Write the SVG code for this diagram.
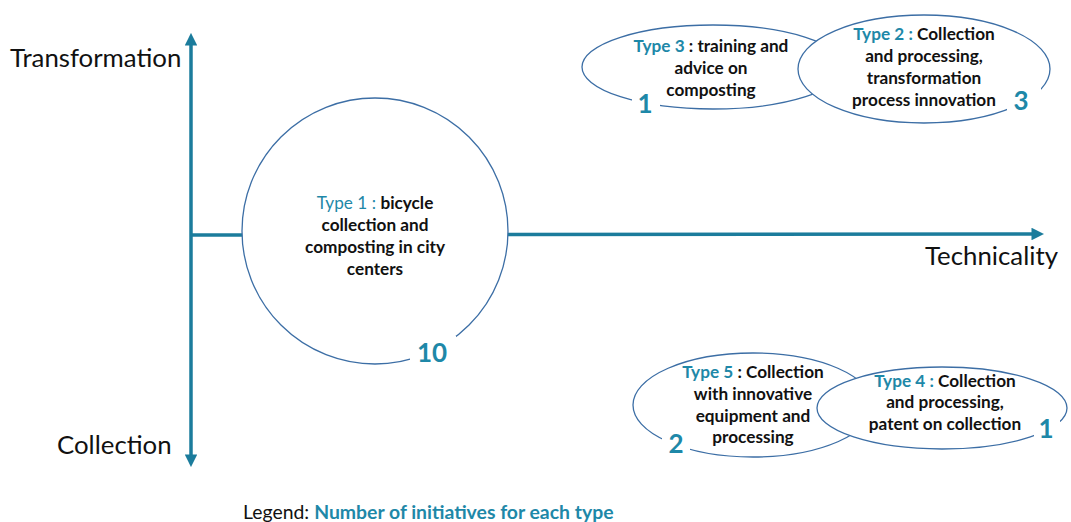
<svg xmlns="http://www.w3.org/2000/svg" width="1071" height="522" viewBox="0 0 1071 522">
<style>
.ax{stroke:#1B7C9C;stroke-width:3.5;fill:none}
.sh{fill:#fff;stroke:#3C6EA5;stroke-width:1.3}
.t{font-family:Lato,"Liberation Sans",sans-serif;font-weight:bold;font-size:17.2px;fill:#111;text-anchor:middle}
.ty{fill:#1E88A8}
.num{font-family:Lato,"Liberation Sans",sans-serif;font-weight:bold;font-size:26px;fill:#1E88A8;text-anchor:middle}
.lab{font-family:Lato,"Liberation Sans",sans-serif;font-size:25.8px;fill:#111}
.gap{fill:#fff}
</style>
<defs>
<marker id="ah" viewBox="0 0 10 10" refX="2" refY="5" markerWidth="3.6" markerHeight="3.6" orient="auto-start-reverse" markerUnits="strokeWidth">
<path d="M0,0 L10,5 L0,10 z" fill="#1B7C9C"/>
</marker>
</defs>
<g id="connectors">
<line class="ax" x1="191" y1="43" x2="191" y2="457" marker-start="url(#ah)" marker-end="url(#ah)"/>
<line class="ax" x1="191" y1="235" x2="1034" y2="234" marker-end="url(#ah)"/>
</g>
<g id="axis-labels">
<text class="lab" x="10" y="67">Transformation</text>
<text class="lab" x="57" y="454">Collection</text>
<text class="lab" x="925" y="265">Technicality</text>
</g>
<g id="type1">
<circle class="sh" cx="375" cy="231" r="133"/>
<rect class="gap" x="410" y="336" width="46" height="28"/>
<text class="t" x="375" y="209"><tspan class="ty" font-weight="normal">Type 1 : </tspan>bicycle</text>
<text class="t" x="375" y="231">collection and</text>
<text class="t" x="375" y="253">composting in city</text>
<text class="t" x="375" y="275">centers</text>
<text class="num" x="432" y="362">10</text>
</g>
<g id="type3">
<ellipse class="sh" cx="713" cy="67" rx="131" ry="42"/>
<rect class="gap" x="632" y="90" width="28" height="24"/>
<text class="t" x="711" y="52"><tspan class="ty">Type 3 </tspan>: training and</text>
<text class="t" x="711" y="74">advice on</text>
<text class="t" x="711" y="96">composting</text>
<text class="num" x="645" y="113">1</text>
</g>
<g id="type2">
<ellipse class="sh" cx="924" cy="69" rx="126" ry="54"/>
<rect class="gap" x="1007" y="86" width="34" height="26"/>
<text class="t" x="924" y="40"><tspan class="ty">Type 2 : </tspan>Collection</text>
<text class="t" x="924" y="62">and processing,</text>
<text class="t" x="924" y="84">transformation</text>
<text class="t" x="924" y="106">process innovation</text>
<text class="num" x="1021" y="110">3</text>
</g>
<g id="type5">
<ellipse class="sh" cx="753" cy="405" rx="120" ry="52"/>
<rect class="gap" x="662" y="428" width="28" height="26"/>
<text class="t" x="753" y="378"><tspan class="ty">Type 5 </tspan>: Collection</text>
<text class="t" x="753" y="400">with innovative</text>
<text class="t" x="753" y="422">equipment and</text>
<text class="t" x="753" y="443">processing</text>
<text class="num" x="676" y="453">2</text>
</g>
<g id="type4">
<ellipse class="sh" cx="942" cy="408" rx="125" ry="41"/>
<rect class="gap" x="1034" y="412" width="26" height="26"/>
<text class="t" x="945" y="387"><tspan class="ty">Type 4 : </tspan>Collection</text>
<text class="t" x="945" y="408">and processing,</text>
<text class="t" x="945" y="430">patent on collection</text>
<text class="num" x="1046" y="438">1</text>
</g>
<g id="legend">
<text x="243" y="519" font-family="Lato,'Liberation Sans',sans-serif" font-size="19.4" fill="#111">Legend: <tspan font-weight="bold" fill="#1E88A8">Number of initiatives for each type</tspan></text>
</g>
</svg>
